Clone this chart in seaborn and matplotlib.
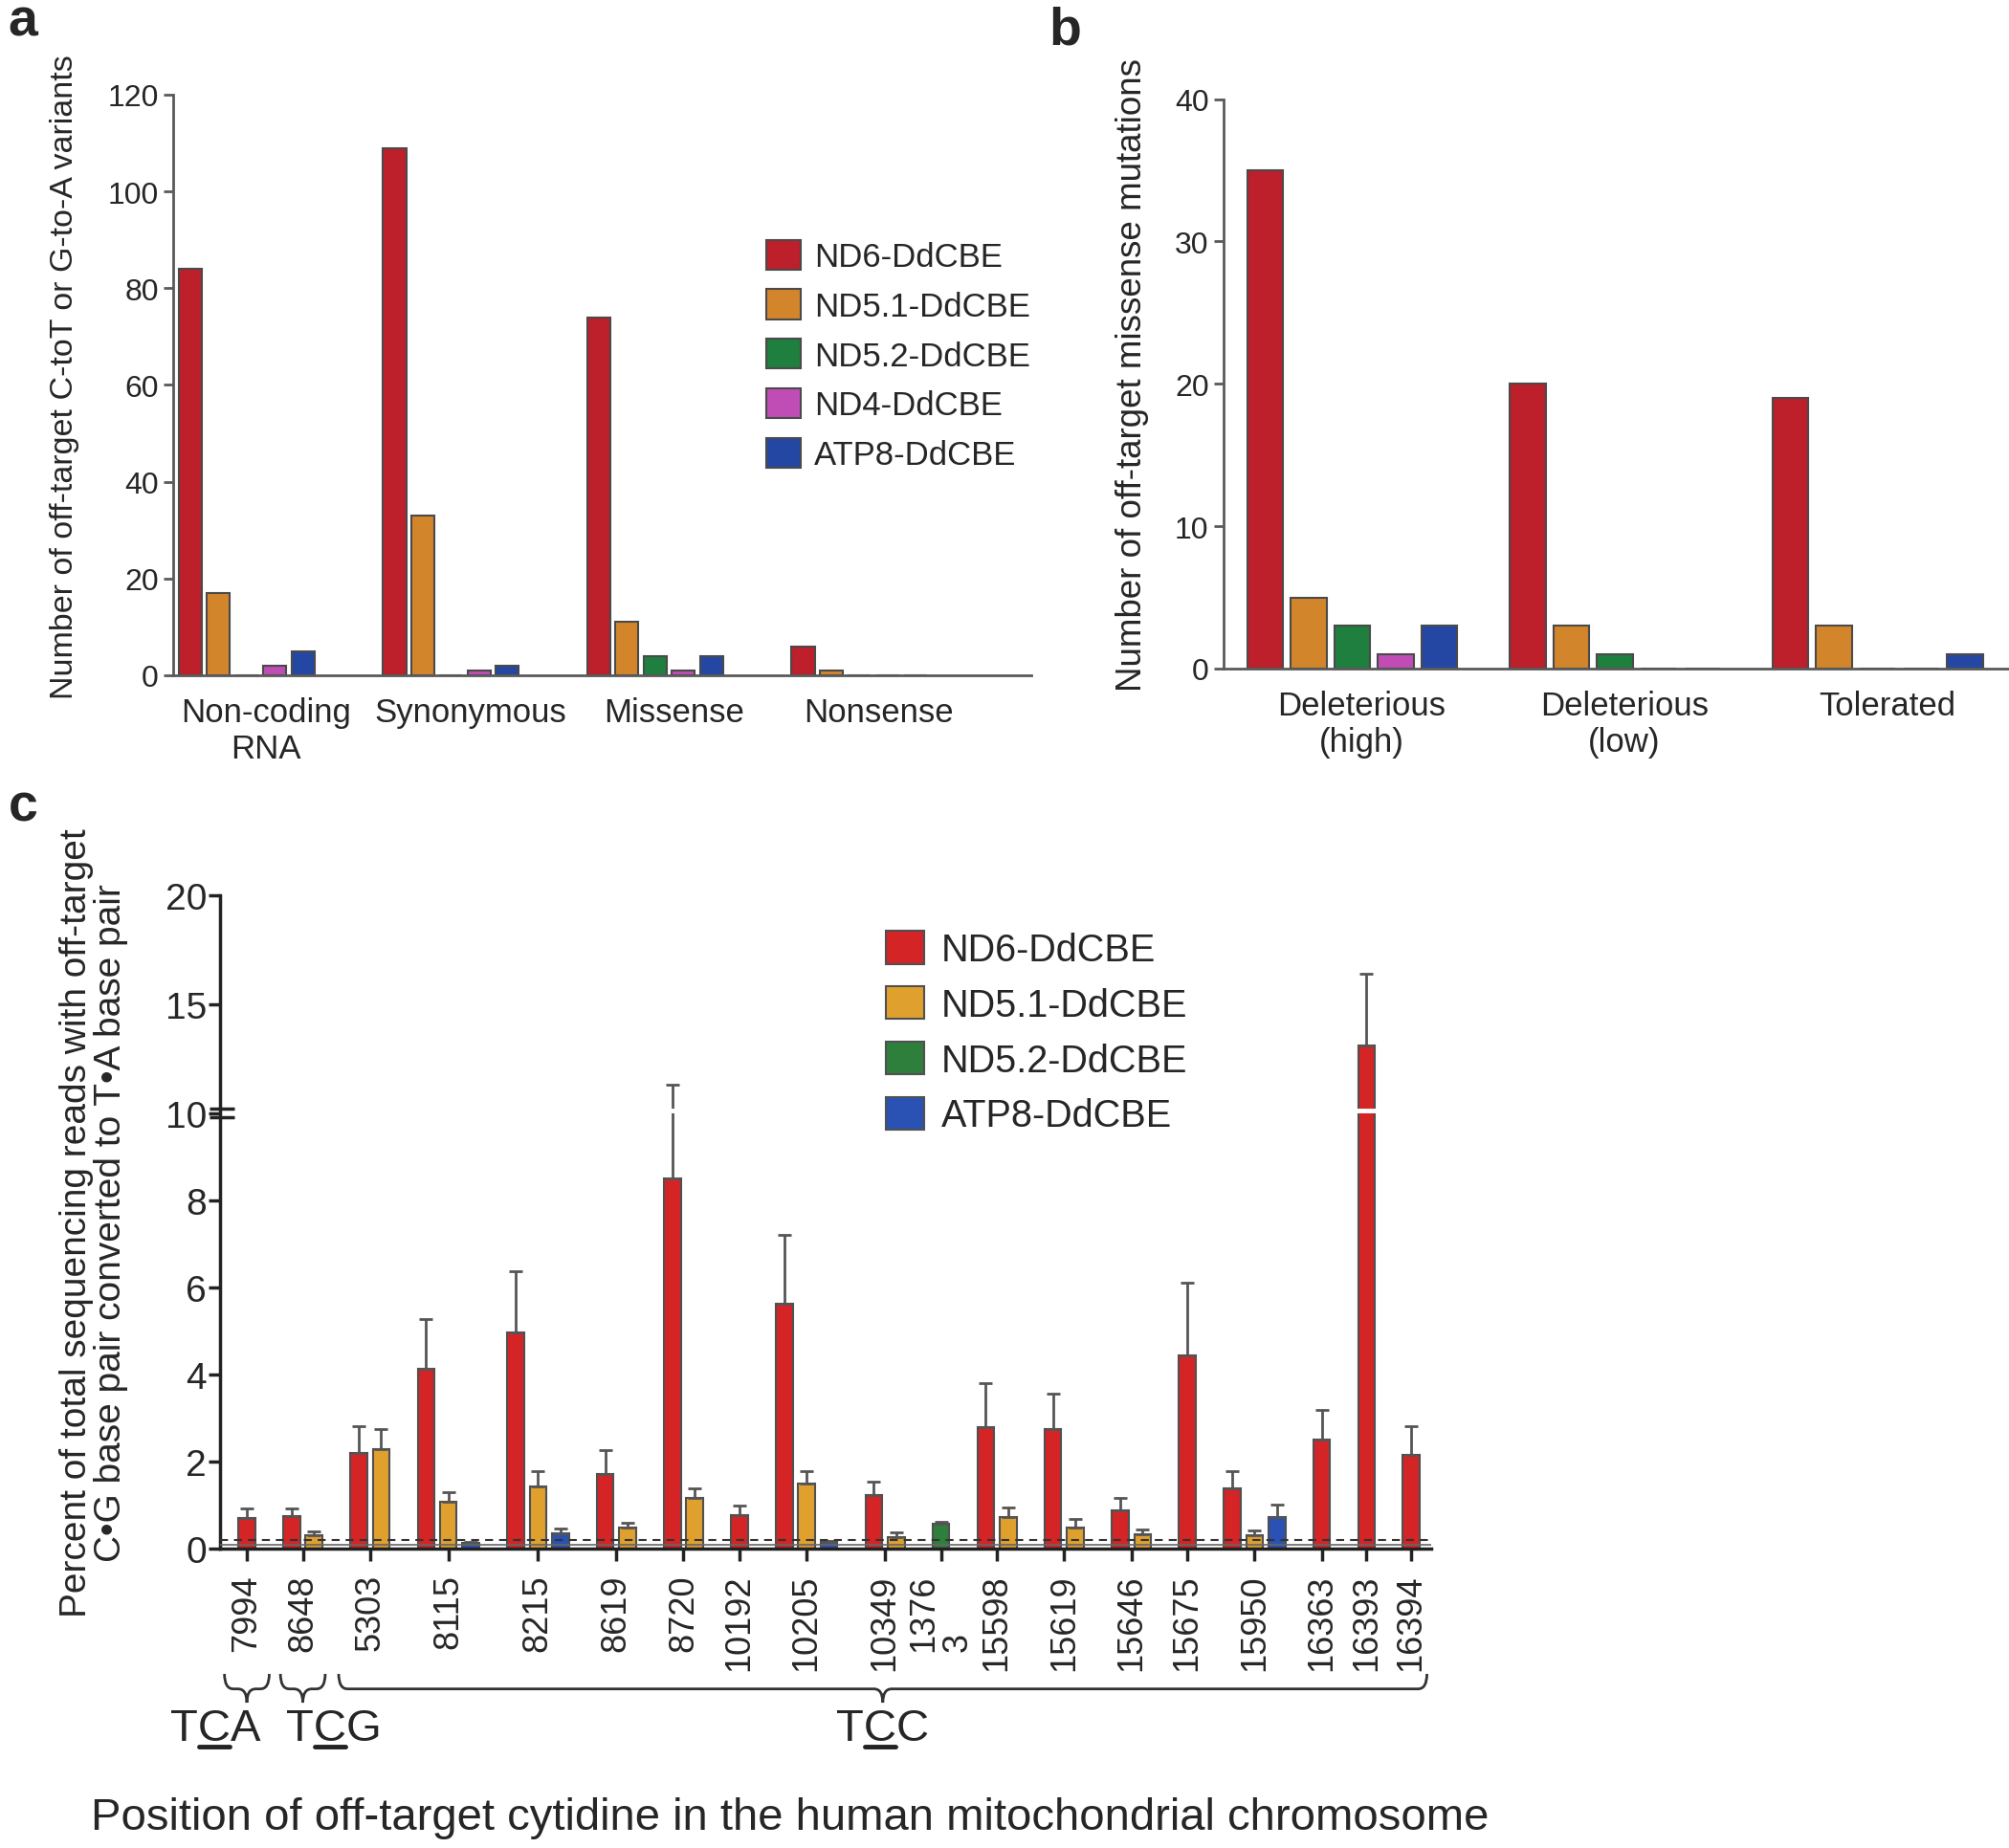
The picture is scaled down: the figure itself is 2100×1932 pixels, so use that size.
import numpy as np
import pandas as pd
import matplotlib
matplotlib.use('Agg')
import matplotlib.pyplot as plt
import matplotlib.transforms as mtransforms
from matplotlib.path import Path
from matplotlib.patches import PathPatch
from matplotlib.lines import Line2D
import seaborn as sns

sns.set_theme(style='ticks')
plt.rcParams['font.family'] = ['Liberation Sans', 'DejaVu Sans']

# ---- data: panels a and b ----
editors_ab = ['ND6-DdCBE', 'ND5.1-DdCBE', 'ND5.2-DdCBE', 'ND4-DdCBE', 'ATP8-DdCBE']
colors_ab = ['#bd1f2b', '#d3852b', '#1f7f3e', '#c04db6', '#2447a3']

cats_a = ['Non-coding\nRNA', 'Synonymous', 'Missense', 'Nonsense']
nd6_a = [84, 109, 74, 6]
nd51_a = [17, 33, 11, 1]
nd52_a = [0, 0, 4, 0]
nd4_a = [2, 1, 1, 0]
atp8_a = [5, 2, 4, 0]

cats_b = ['Deleterious\n(high)', 'Deleterious\n(low)', 'Tolerated']
nd6_b = [35, 20, 19]
nd51_b = [5, 3, 3]
nd52_b = [3, 1, 0]
nd4_b = [1, 0, 0]
atp8_b = [3, 0, 1]

# ---- data: panel c (mean and upper error, None = not detected) ----
editors_c = ['ND6-DdCBE', 'ND5.1-DdCBE', 'ND5.2-DdCBE', 'ATP8-DdCBE']
colors_c = ['#d42426', '#e0a02e', '#2e7f3c', '#2a52b4']

sites_c = ['7994', '8648', '5303', '8115', '8215', '8619', '8720', '10192', '10205',
           '10349', '13763', '15598', '15619', '15646', '15675', '15950', '16363',
           '16393', '16394']
site_labels_c = ['7994', '8648', '5303', '8115', '8215', '8619', '8720', '10192', '10205',
                 '10349', '1376\n3', '15598', '15619', '15646', '15675', '15950', '16363',
                 '16393', '16394']
nd6_c = [0.71, 0.75, 2.20, 4.13, 4.97, 1.70, 8.49, 0.77, 5.62, 1.22, None, 2.79, 2.75,
         0.87, 4.44, 1.39, 2.49, 13.1, 2.16]
nd6_err = [0.22, 0.18, 0.61, 1.14, 1.40, 0.55, 2.80, 0.21, 1.58, 0.32, None, 1.00, 0.81,
           0.29, 1.66, 0.39, 0.69, 3.30, 0.65]
nd51_c = [None, 0.30, 2.29, 1.07, 1.43, 0.48, 1.16, None, 1.48, 0.25, None, 0.73, 0.48,
          0.33, None, 0.30, None, None, None]
nd51_err = [None, 0.10, 0.46, 0.23, 0.34, 0.11, 0.23, None, 0.29, 0.12, None, 0.22, 0.20,
            0.11, None, 0.12, None, None, None]
nd52_c = [None] * 10 + [0.57] + [None] * 8
nd52_err = [None] * 10 + [0.05] + [None] * 8
atp8_c = [None, None, None, 0.12, 0.35, None, None, None, 0.15, None, None, None, None,
          None, None, 0.73, None, None, None]
atp8_err = [None, None, None, 0.03, 0.10, None, None, None, 0.03, None, None, None, None,
            None, None, 0.27, None, None, None]

EDGE = '#4a4a4a'
SPINE_AB = '#5a5a5a'

fig = plt.figure(figsize=(21, 19.33), dpi=100)


def style_ab(ax, shift):
    sns.despine(ax=ax)
    for s in ['left', 'bottom']:
        ax.spines[s].set_color(SPINE_AB)
        ax.spines[s].set_linewidth(2)
    ax.tick_params(axis='y', length=7, width=2, color=SPINE_AB, labelsize=23, pad=4)
    ax.tick_params(axis='x', length=0, labelsize=25, pad=16)
    ax.set_xlabel('')
    off = mtransforms.ScaledTranslation(shift, 0, fig.dpi_scale_trans)
    for lab in ax.get_xticklabels():
        lab.set_transform(lab.get_transform() + off)


# ---- panel a ----
ax_a = fig.add_axes([0.0862, 0.6343, 0.427, 0.314])
df_a = pd.DataFrame({'category': cats_a, 'ND6-DdCBE': nd6_a, 'ND5.1-DdCBE': nd51_a,
                     'ND5.2-DdCBE': nd52_a, 'ND4-DdCBE': nd4_a, 'ATP8-DdCBE': atp8_a})
df_a = df_a.melt(id_vars='category', var_name='editor', value_name='count')
sns.barplot(data=df_a, x='category', y='count', hue='editor', hue_order=editors_ab,
            palette=colors_ab, saturation=1, width=0.69, gap=0.18, errorbar=None,
            edgecolor=EDGE, linewidth=1.5, ax=ax_a)
style_ab(ax_a, 0.2)
ax_a.set_ylim(0, 120)
ax_a.set_yticks([0, 20, 40, 60, 80, 100, 120])
ax_a.set_xlim(-0.36, 3.84)
ax_a.set_ylabel('Number of off-target C-toT or G-to-A variants', fontsize=24.5)
ax_a.yaxis.set_label_coords(-0.109, 0.516)
h, l = ax_a.get_legend_handles_labels()
ax_a.legend(h, l, loc='upper left', bbox_to_anchor=(0.691, 0.75), frameon=False,
            fontsize=25, handlelength=1.05, handleheight=1.0, handletextpad=0.4,
            labelspacing=0.5, borderpad=0, borderaxespad=0)

# ---- panel b ----
ax_b = fig.add_axes([0.609, 0.6379, 0.391, 0.308])
df_b = pd.DataFrame({'category': cats_b, 'ND6-DdCBE': nd6_b, 'ND5.1-DdCBE': nd51_b,
                     'ND5.2-DdCBE': nd52_b, 'ND4-DdCBE': nd4_b, 'ATP8-DdCBE': atp8_b})
df_b = df_b.melt(id_vars='category', var_name='editor', value_name='count')
sns.barplot(data=df_b, x='category', y='count', hue='editor', hue_order=editors_ab,
            palette=colors_ab, saturation=1, width=0.83, gap=0.18, errorbar=None,
            edgecolor=EDGE, linewidth=1.5, legend=False, ax=ax_b)
style_ab(ax_b, 0.1)
ax_b.set_ylim(0, 40)
ax_b.set_yticks([0, 10, 20, 30, 40])
ax_b.set_xlim(-0.49, 2.5)
ax_b.set_ylabel('Number of off-target missense mutations', fontsize=26.5)
ax_b.yaxis.set_label_coords(-0.095, 0.518)

# ---- panel c ----
ax_c = fig.add_axes([0.1095, 0.162, 0.603, 0.3533])
series_c = [('ND6-DdCBE', nd6_c, nd6_err), ('ND5.1-DdCBE', nd51_c, nd51_err),
            ('ND5.2-DdCBE', nd52_c, nd52_err), ('ATP8-DdCBE', atp8_c, atp8_err)]

# bars of one site sit side by side, one empty slot between sites
rows, tick_pos, slot = [], [], 0
for i in range(len(sites_c)):
    group = []
    for ed, means, errs in series_c:
        if means[i] is not None:
            rows.append({'slot': slot, 'value': means[i], 'err': errs[i], 'editor': ed})
            group.append(slot)
            slot += 1
    tick_pos.append(np.mean(group))
    slot += 1
df_c = pd.DataFrame(rows)

sns.barplot(data=df_c, x='slot', y='value', hue='editor', hue_order=editors_c,
            palette=colors_c, saturation=1, native_scale=True, dodge=False, width=0.75,
            errorbar=None, edgecolor='#505050', linewidth=1.5, ax=ax_c)
h, l = ax_c.get_legend_handles_labels()
ax_c.legend(h, l, loc='upper left', bbox_to_anchor=(0.55, 0.945), frameon=False,
            fontsize=28.5, handlelength=1.0, handleheight=0.95, handletextpad=0.45,
            labelspacing=0.48, borderpad=0, borderaxespad=0)

ax_c.errorbar(df_c['slot'], df_c['value'], yerr=[np.zeros(len(df_c)), df_c['err']],
              fmt='none', ecolor='#555555', elinewidth=2, capsize=5, capthick=2,
              zorder=3, label='_nolegend_')


# broken y axis: 0-10 linear, 10-20 compressed by half
def fwd(y):
    y = np.asarray(y, dtype=float)
    return np.where(y <= 10, y, 10 + (y - 10) / 2)


def inv(y):
    y = np.asarray(y, dtype=float)
    return np.where(y <= 10, y, 10 + (y - 10) * 2)


ax_c.set_yscale('function', functions=(fwd, inv))
ax_c.set_ylim(0, 20)
ax_c.set_yticks([0, 2, 4, 6, 8, 10, 15, 20])
ax_c.set_yticklabels(['0', '2', '4', '6', '8', '10', '15', '20'])
ax_c.set_xlim(-1.2, 52.9)
ax_c.set_xticks(tick_pos)
ax_c.set_xticklabels(site_labels_c, rotation=90, ha='center', va='top',
                     multialignment='left', linespacing=1.0)
ax_c.set_xlabel('')
sns.despine(ax=ax_c)
for s in ['left', 'bottom']:
    ax_c.spines[s].set_color('#222222')
    ax_c.spines[s].set_linewidth(2.5)
ax_c.tick_params(axis='y', length=9, width=2.5, color='#222222', labelsize=28, pad=1)
ax_c.tick_params(axis='x', length=9, width=2.5, color='#222222', labelsize=26, pad=10)
ax_c.set_ylabel('Percent of total sequencing reads with off-target\n'
                'C\u2022G base pair converted to T\u2022A base pair',
                fontsize=28, linespacing=1.0)
ax_c.yaxis.set_label_coords(-0.076, 0.5)

# detection threshold lines
ax_c.axhline(0.2, color='#333333', lw=1.5, ls=(0, (4, 3)), zorder=4)
ax_c.axhline(0.09, color='#666666', lw=1.2, zorder=4)

# gaps where bars / error bars cross the axis break
for _, r in df_c.iterrows():
    if r['value'] + r['err'] > 10:
        ax_c.plot([r['slot'] - 0.5, r['slot'] + 0.5], [10.1, 10.1], color='white',
                  lw=3.5, zorder=6, solid_capstyle='butt')

# "=" break marks on the y axis
trans_y = mtransforms.blended_transform_factory(ax_c.transAxes, ax_c.transData)
for dy in (-3.5, 3.5):
    off = mtransforms.ScaledTranslation(0, dy / 72, fig.dpi_scale_trans)
    ax_c.plot([-0.009, 0.012], [10, 10], transform=trans_y + off, color='#222222',
              lw=2.5, clip_on=False, solid_capstyle='butt')

# braces grouping the sequence contexts
trans_x = mtransforms.blended_transform_factory(ax_c.transData, ax_c.transAxes)


def brace(x0, x1, y_top, y_mid, y_bot, r):
    xm = (x0 + x1) / 2
    verts = [(x0, y_top), (x0, y_mid), (x0 + r, y_mid),
             (xm - r, y_mid), (xm, y_mid), (xm, y_bot),
             (xm, y_mid), (xm + r, y_mid),
             (x1 - r, y_mid), (x1, y_mid), (x1, y_top)]
    codes = [Path.MOVETO, Path.CURVE3, Path.CURVE3,
             Path.LINETO, Path.CURVE3, Path.CURVE3,
             Path.CURVE3, Path.CURVE3,
             Path.LINETO, Path.CURVE3, Path.CURVE3]
    ax_c.add_patch(PathPatch(Path(verts, codes), fill=False, edgecolor='#333333', lw=2,
                             transform=trans_x, clip_on=False))
    return xm


context_groups = [('TCA', 0, 1, -1.4), ('TCG', 1, 2, 1.4), ('TCC', 2, len(sites_c), 0)]
context_texts = []
for name, i0, i1, shift in context_groups:
    if i1 - i0 == 1:
        x0, x1 = tick_pos[i0] - 1, tick_pos[i0] + 1
    else:
        x0 = df_c['slot'][df_c['slot'] >= tick_pos[i0] - 1].min() - 0.9
        x1 = df_c['slot'].max() + 0.7
    xm = brace(x0, x1, -0.192, -0.215, -0.236, 0.4)
    t = ax_c.text(xm + shift, -0.275, name, transform=trans_x, ha='center', va='center',
                  fontsize=34)
    context_texts.append(t)

fig.text(0.393, 0.0166, 'Position of off-target cytidine in the human mitochondrial chromosome',
         ha='center', va='center', fontsize=34)

# panel letters
fig.text(0.004, 0.988, 'a', fontsize=40, fontweight='bold', va='center')
fig.text(0.522, 0.983, 'b', fontsize=40, fontweight='bold', va='center')
fig.text(0.004, 0.563, 'c', fontsize=40, fontweight='bold', va='center')

# underline the edited C in each context
fig.canvas.draw()
renderer = fig.canvas.get_renderer()
for t in context_texts:
    bb = t.get_window_extent(renderer)
    s = t.get_text()
    tmp1 = fig.text(0, 0, s[:1], fontsize=34)
    tmp2 = fig.text(0, 0, s[:2], fontsize=34)
    w1 = tmp1.get_window_extent(renderer).width
    w2 = tmp2.get_window_extent(renderer).width
    tmp1.remove()
    tmp2.remove()
    y = bb.y0 + 3
    fig.add_artist(Line2D([bb.x0 + w1 + 1, bb.x0 + w2 - 1], [y, y], lw=3.5, color='#222222',
                          transform=mtransforms.IdentityTransform()))

fig.savefig('out.png', dpi=100)
